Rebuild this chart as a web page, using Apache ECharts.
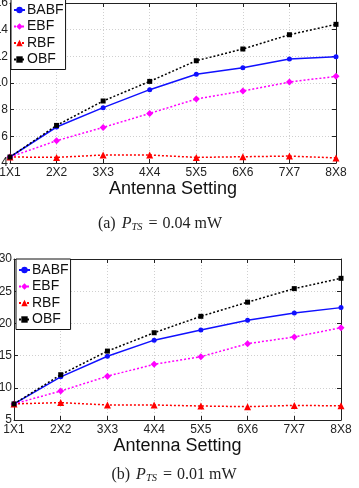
<!DOCTYPE html>
<html><head><meta charset="utf-8">
<script src="https://cdn.jsdelivr.net/npm/echarts@6/dist/echarts.min.js"></script>
<style>html,body{margin:0;padding:0;background:#fff}#c{width:359px;height:488px}</style>
</head><body><div id="c"></div>
<script>
var categories = ['1X1','2X2','3X3','4X4','5X5','6X6','7X7','8X8'];
// (a) P_TS = 0.04 mW
var babfA = [4.45, 6.7, 8.15, 9.5, 10.65, 11.15, 11.8, 11.97];
var ebfA  = [4.45, 5.67, 6.67, 7.72, 8.8, 9.4, 10.07, 10.5];
var rbfA  = [4.45, 4.42, 4.6, 4.6, 4.42, 4.47, 4.52, 4.38];
var obfA  = [4.45, 6.82, 8.65, 10.12, 11.67, 12.55, 13.62, 14.4];
// (b) P_TS = 0.01 mW
var babfB = [7.5, 11.7, 14.9, 17.4, 18.97, 20.5, 21.6, 22.45];
var ebfB  = [7.5, 9.5, 11.8, 13.65, 14.83, 16.85, 17.9, 19.33];
var rbfB  = [7.5, 7.7, 7.33, 7.33, 7.17, 7.07, 7.27, 7.2];
var obfB  = [7.5, 12.03, 15.7, 18.55, 21.1, 23.3, 25.4, 27.0];
var yTicksA = {min: 4, max: 16, interval: 2};
var yTicksB = {min: 5, max: 30, interval: 5};

var font = 'Liberation Sans, Arial, Helvetica, sans-serif';
var serif = 'Liberation Serif, DejaVu Serif, serif';
var chart = echarts.init(document.getElementById('c'), null, {renderer: 'canvas'});

function xAx(grid, pos, labels) {
  return {
    type: 'category', data: categories, gridIndex: grid, position: pos, boundaryGap: false,
    axisLine: {show: true, lineStyle: {color: '#222', width: 1}},
    axisTick: {show: true, inside: true, length: 4, alignWithLabel: true, lineStyle: {color: '#222'}},
    axisLabel: {show: labels, color: '#222', fontSize: 12, fontFamily: font, margin: 4, interval: 0, hideOverlap: false},
    splitLine: {show: labels, lineStyle: {color: '#d0d0d0', type: [1, 2]}},
    name: labels ? 'Antenna Setting' : '', nameLocation: 'middle',
    nameGap: grid === 0 ? 16 : 13,
    nameTextStyle: {fontSize: 18, fontFamily: font, color: '#111'}
  };
}
function yAx(grid, pos, t, labels) {
  return {
    type: 'value', gridIndex: grid, position: pos, min: t.min, max: t.max, interval: t.interval,
    axisLine: {show: true, lineStyle: {color: '#222', width: 1}},
    axisTick: {show: true, inside: true, length: 4, lineStyle: {color: '#222'}},
    axisLabel: {show: labels, color: '#222', fontSize: 12, fontFamily: font, margin: 2, showMinLabel: true, showMaxLabel: true},
    splitLine: {show: labels, lineStyle: {color: '#d0d0d0', type: [1, 2]}}
  };
}
function ser(name, data, grid, color, symbol, size, dashed) {
  return {
    name: name, type: 'line', data: data, xAxisIndex: grid * 2, yAxisIndex: grid * 2,
    symbol: symbol, symbolSize: size, showSymbol: true,
    lineStyle: {color: color, width: 1.5, type: dashed ? [2, 2] : 'solid'},
    itemStyle: {color: color}, animation: false, z: 3
  };
}
function legend(left, top) {
  return {
    orient: 'vertical', left: left, top: top, data: ['BABF', 'EBF', 'RBF', 'OBF'],
    backgroundColor: '#fff', borderColor: '#111', borderWidth: 1, borderRadius: 0,
    padding: [4, 2, 3, 2], itemGap: 2.5, itemWidth: 11, itemHeight: 8, z: 10,
    textStyle: {fontSize: 14, fontFamily: font, color: '#111', padding: [0, 0, 0, -3], lineHeight: 14}
  };
}
var capRich = {
  n: {fontSize: 16, fontFamily: serif, fontWeight: 'normal', color: '#222'},
  i: {fontSize: 16, fontFamily: serif, fontWeight: 'normal', fontStyle: 'italic', color: '#222', padding: [0, 0, 0, 6]},
  s: {fontSize: 10.5, fontFamily: serif, fontWeight: 'normal', fontStyle: 'italic', color: '#222', verticalAlign: 'bottom', padding: [7, 1, 0, 0]},
  e: {fontSize: 16, fontFamily: serif, fontWeight: 'normal', color: '#222', padding: [0, 5, 0, 5]}
};

chart.setOption({
  animation: false,
  grid: [
    {left: 10, top: 3, width: 326, height: 160, containLabel: false, outerBoundsMode: 'none'},
    {left: 14, top: 259, width: 327, height: 161, containLabel: false, outerBoundsMode: 'none'}
  ],
  xAxis: [xAx(0, 'bottom', true), xAx(0, 'top', false), xAx(1, 'bottom', true), xAx(1, 'top', false)],
  yAxis: [yAx(0, 'left', yTicksA, true), yAx(0, 'right', yTicksA, false), yAx(1, 'left', yTicksB, true), yAx(1, 'right', yTicksB, false)],
  legend: [legend(11, -1), legend(16, 259)],
  title: [
    {text: '{n|(a)}{i|P}{s|TS}{e|=}{n|0.04 mW}', left: 160, top: 215, textAlign: 'center', padding: 0, textStyle: {fontWeight: 'normal', rich: capRich}},
    {text: '{n|(b)}{i|P}{s|TS}{e|=}{n|0.01 mW}', left: 174, top: 466, textAlign: 'center', padding: 0, textStyle: {fontWeight: 'normal', rich: capRich}}
  ],
  series: [
    ser('BABF', babfA, 0, '#1010ff', 'circle', 5, false),
    ser('EBF', ebfA, 0, '#ff00ff', 'diamond', 7, true),
    ser('RBF', rbfA, 0, '#ff0000', 'triangle', 7, true),
    ser('OBF', obfA, 0, '#000000', 'rect', 5, true),
    ser('BABF', babfB, 1, '#1010ff', 'circle', 5, false),
    ser('EBF', ebfB, 1, '#ff00ff', 'diamond', 7, true),
    ser('RBF', rbfB, 1, '#ff0000', 'triangle', 7, true),
    ser('OBF', obfB, 1, '#000000', 'rect', 5, true)
  ]
});
</script></body></html>
